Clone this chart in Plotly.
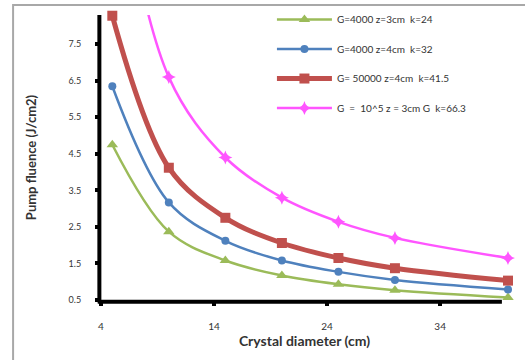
import plotly.graph_objects as go

diam = [5, 10, 15, 20, 25, 30, 40]
green = [4.75, 2.37, 1.58, 1.17, 0.93, 0.77, 0.57]
blue = [6.35, 3.17, 2.12, 1.58, 1.27, 1.05, 0.79]
red = [8.28, 4.12, 2.75, 2.06, 1.65, 1.37, 1.03]
pink = [13.2, 6.6, 4.4, 3.3, 2.64, 2.2, 1.65]

names = ["G=4000 z=3cm  k=24", "G=4000 z=4cm  k=32",
         "G= 50000 z=4cm  k=41.5", "G  =  10^5 z = 3cm G  k=66.3"]

ytick_vals = [0.5, 1.5, 2.5, 3.5, 4.5, 5.5, 6.5, 7.5]
xtick_vals = [4, 14, 24, 34]

series = [
    (green, "#9BBB59", 2.5, "triangle-up", 10),
    (blue, "#4F81BD", 2.5, "circle", 8),
    (red, "#C0504D", 5, "square", 10),
    (pink, "#FF55FF", 2.5, "star-diamond", 10),
]

fig = go.Figure()
for i, ((ys, col, w, sym, ms), nm) in enumerate(zip(series, names)):
    fig.add_trace(go.Scatter(
        x=diam, y=ys, name=nm, mode="lines+markers",
        line=dict(color=col, width=w, shape="spline", smoothing=1.0),
        marker=dict(color=col, symbol=sym, size=ms),
        legendgroup=str(i), cliponaxis=False,
    ))

axis_common = dict(showgrid=False, zeroline=False, showline=False,
                   ticks="outside", ticklen=5, tickwidth=4, tickcolor="#000000",
                   ticklabelstandoff=12)

fig.update_layout(
    width=525, height=360,
    margin=dict(l=101, r=17, t=15, b=60, autoexpand=False),
    paper_bgcolor="white", plot_bgcolor="white",
    font=dict(family="Lato, Open Sans, sans-serif", color="#333"),
    showlegend=True,
    legend=dict(x=0.42, y=1.035, xanchor="left", yanchor="top",
                font=dict(size=10, color="#333"), tracegroupgap=10.5,
                bgcolor="rgba(0,0,0,0)", itemwidth=55),
    xaxis=dict(range=[4, 40], tickvals=xtick_vals,
               tickfont=dict(size=10, color="#333"),
               title=dict(text="<b>Crystal diameter (cm)</b>",
                          font=dict(size=14, color="#333"), standoff=4),
               **axis_common),
    yaxis=dict(range=[0.5, 8.3], tickvals=ytick_vals,
               ticktext=[str(v) for v in ytick_vals],
               tickfont=dict(size=9, color="#333"),
               title=dict(text="<b>Pump fluence (J/cm2)</b>",
                          font=dict(size=13, color="#333"), standoff=29),
               **axis_common),
    shapes=[
        dict(type="rect", xref="paper", yref="paper",
             x0=-0.216, x1=1.1, y0=-0.3, y1=1.035,
             line=dict(color="#A8A8A8", width=2), layer="below"),
        dict(type="line", xref="paper", yref="paper", x0=-0.004, x1=-0.004,
             y0=-0.008, y1=1.0, line=dict(color="black", width=4), layer="above"),
        dict(type="line", xref="paper", yref="paper", x0=-0.008, x1=0.985,
             y0=-0.006, y1=-0.006, line=dict(color="black", width=4), layer="above"),
    ],
)

fig.write_html("out.html")
